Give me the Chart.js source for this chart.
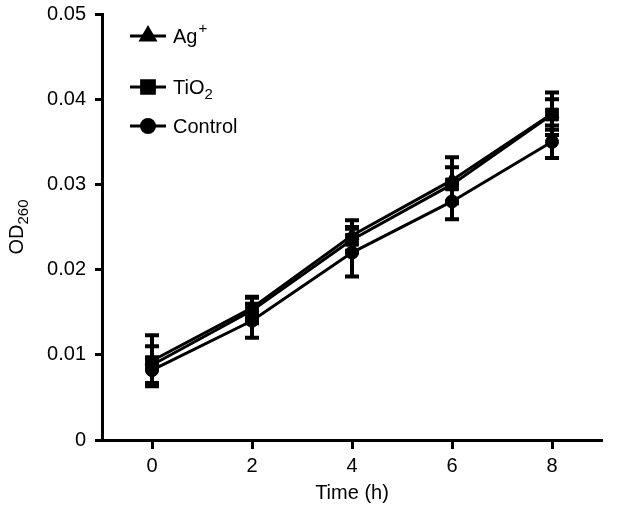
<!DOCTYPE html>
<html><head><meta charset="utf-8">
<script src="https://cdn.jsdelivr.net/npm/chart.js@4/dist/chart.umd.min.js"></script>
<style>html,body{margin:0;padding:0;background:#fff}#wrap{width:633px;height:505px}</style>
</head><body><div id="wrap"><canvas id="c" width="633" height="505"></canvas></div>
<script>
const timePoints = [0, 2, 4, 6, 8];
const agValues = [0.0093, 0.0155, 0.0240, 0.0305, 0.0383];
const agErrors = [0.0030, 0.0013, 0.0018, 0.0027, 0.0025];
const tioValues = [0.0088, 0.0152, 0.0235, 0.0300, 0.0382];
const tioErrors = [0.0022, 0.0015, 0.0015, 0.0020, 0.0018];
const ctrlValues = [0.0082, 0.0140, 0.0220, 0.0280, 0.0350];
const ctrlErrors = [0.0015, 0.0020, 0.0028, 0.0021, 0.0019];
const yTicks = [0, 0.01, 0.02, 0.03, 0.04, 0.05];
const xTicks = [0, 2, 4, 6, 8];

const FONT = '"Liberation Sans", Arial, sans-serif';
function pts(vals){ return timePoints.map((t,i)=>({x:t,y:vals[i]})); }

const errPlugin = {
  id:'errbars',
  beforeDatasetsDraw(chart){
    const ctx = chart.ctx, xs = chart.scales.x, ys = chart.scales.y;
    ctx.save(); ctx.strokeStyle='#000';
    chart.data.datasets.forEach(ds=>{
      ds.data.forEach((p,i)=>{
        const e = ds.errors[i];
        const px = xs.getPixelForValue(p.x);
        const top = ys.getPixelForValue(p.y+e), bot = ys.getPixelForValue(p.y-e);
        ctx.lineWidth=4; ctx.beginPath(); ctx.moveTo(px,top); ctx.lineTo(px,bot); ctx.stroke();
        ctx.lineWidth=4; ctx.beginPath();
        ctx.moveTo(px-7,top); ctx.lineTo(px+7,top);
        ctx.moveTo(px-7,bot); ctx.lineTo(px+7,bot); ctx.stroke();
      });
    });
    ctx.restore();
  }
};

const textPlugin = {
  id:'texts',
  afterDraw(chart){
    const ctx = chart.ctx, ca = chart.chartArea;
    ctx.save(); ctx.fillStyle='#000'; ctx.textBaseline='alphabetic';
    // Y title
    ctx.save();
    ctx.translate(23, (ca.top+ca.bottom)/2);
    ctx.rotate(-Math.PI/2);
    ctx.font='20px '+FONT;
    const w1 = ctx.measureText('OD').width;
    ctx.font='15px '+FONT;
    const w2 = ctx.measureText('260').width;
    let sx = -(w1+w2)/2;
    ctx.font='20px '+FONT; ctx.textAlign='left';
    ctx.fillText('OD', sx, 0);
    ctx.font='15px '+FONT;
    ctx.fillText('260', sx+w1, 5);
    ctx.restore();
    // X title
    ctx.font='20px '+FONT; ctx.textAlign='center';
    ctx.fillText('Time (h)', (ca.left+ca.right)/2, 499);
    // Legend
    const rows = [
      {y:36, style:'triangle', r:8, main:'Ag', sup:'+'},
      {y:87, style:'rect', r:9, main:'TiO', sub:'2'},
      {y:126, style:'circle', r:6.5, main:'Control'}
    ];
    rows.forEach(r=>{
      ctx.strokeStyle='#000'; ctx.lineWidth=3;
      ctx.beginPath(); ctx.moveTo(130,r.y); ctx.lineTo(166,r.y); ctx.stroke();
      Chart.helpers.drawPoint(ctx,{pointStyle:r.style,radius:r.r,borderWidth:1},148,r.y);
      ctx.fill();
      ctx.textAlign='left'; ctx.font='20px '+FONT;
      ctx.fillText(r.main, 173, r.y+7);
      const w = ctx.measureText(r.main).width;
      if(r.sup){ ctx.font='15px '+FONT; ctx.fillText(r.sup, 173+w+1, r.y-3); }
      if(r.sub){ ctx.font='15px '+FONT; ctx.fillText(r.sub, 173+w, r.y+12); }
    });
    ctx.restore();
  }
};

const common = {borderColor:'#000', backgroundColor:'#000', borderWidth:3, pointBorderWidth:1, pointBorderColor:'#000', pointBackgroundColor:'#000', tension:0, fill:false};

new Chart(document.getElementById('c'),{
  type:'line',
  data:{datasets:[
    Object.assign({label:'Control', data:pts(ctrlValues), errors:ctrlErrors, pointStyle:'circle', pointRadius:6.5, order:3}, common),
    Object.assign({label:'Ag+', data:pts(agValues), errors:agErrors, pointStyle:'triangle', pointRadius:8, order:2}, common),
    Object.assign({label:'TiO2', data:pts(tioValues), errors:tioErrors, pointStyle:'rect', pointRadius:9, order:1}, common)
  ]},
  options:{
    responsive:false, animation:false, devicePixelRatio:1,
    layout:{padding:{left:0,top:14,right:31,bottom:0}},
    plugins:{legend:{display:false}, tooltip:{enabled:false}},
    scales:{
      x:{type:'linear', min:-1, max:9,
        afterBuildTicks(s){ s.ticks = xTicks.map(v=>({value:v})); },
        afterFit(s){ s.height = 65; s.paddingLeft = 0; s.paddingRight = 0; },
        grid:{drawOnChartArea:false, drawTicks:true, tickLength:9, tickWidth:3, tickColor:'#000'},
        border:{color:'#000', width:3},
        ticks:{color:'#000', font:{family:FONT, size:20}, padding:5, maxRotation:0}
      },
      y:{type:'linear', min:0, max:0.05,
        afterBuildTicks(s){ s.ticks = yTicks.map(v=>({value:v})); },
        afterFit(s){ s.width = 102; s.paddingTop = 0; s.paddingBottom = 0; },
        grid:{drawOnChartArea:false, drawTicks:true, tickLength:7, tickWidth:3, tickColor:'#000'},
        border:{color:'#000', width:3},
        ticks:{color:'#000', font:{family:FONT, size:20}, padding:9,
          callback:(v)=> v===0 ? '0' : v.toFixed(2)}
      }
    }
  },
  plugins:[errPlugin, textPlugin]
});
</script></body></html>
